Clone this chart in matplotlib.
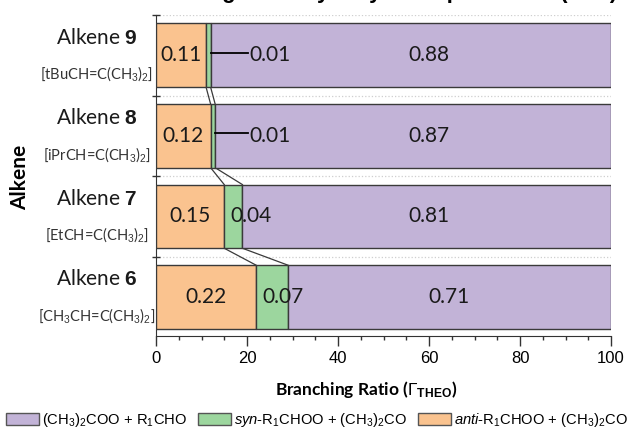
import matplotlib
matplotlib.use('Agg')
import matplotlib.pyplot as plt
import matplotlib.transforms as mtransforms
from matplotlib.patches import Patch
from matplotlib.ticker import MultipleLocator
import numpy as np

plt.rcParams['font.family'] = ['Lato', 'DejaVu Sans']
plt.rcParams['mathtext.fontset'] = 'custom'
plt.rcParams['mathtext.rm'] = 'Liberation Sans'
plt.rcParams['mathtext.it'] = 'Liberation Sans:italic'
plt.rcParams['mathtext.bf'] = 'Liberation Sans:bold'

# data, bottom to top
alkene_ids = ['6', '7', '8', '9']
formulas = [r'[CH$_3$CH=C(CH$_3$)$_2$]', r'[EtCH=C(CH$_3$)$_2$]',
            r'[iPrCH=C(CH$_3$)$_2$]', r'[tBuCH=C(CH$_3$)$_2$]']
anti = np.array([22, 15, 12, 11])
syn = np.array([7, 4, 1, 1])
dimethyl = np.array([71, 81, 87, 88])

series_names = [r'(CH$_3$)$_2$COO + R$_1$CHO',
                r'$\mathit{syn}$-R$_1$CHOO + (CH$_3$)$_2$CO',
                r'$\mathit{anti}$-R$_1$CHOO + (CH$_3$)$_2$CO']

C_ANTI = '#FAC38F'
C_SYN = '#9CD69E'
C_DIM = '#C2B3D7'
EDGE = '#3a3a3a'

fig = plt.figure(figsize=(6.3, 4.3), dpi=100)
ax = fig.add_axes([156 / 630, 1 - 336 / 430, 455 / 630, 321 / 430])

y = np.arange(len(alkene_ids))
h = 0.79
kw = dict(height=h, edgecolor=EDGE, linewidth=1.0, zorder=3)
ax.barh(y, anti, color=C_ANTI, **kw)
ax.barh(y, syn, left=anti, color=C_SYN, **kw)
ax.barh(y, dimethyl, left=anti + syn, color=C_DIM, **kw)

# series lines between neighbouring bars
for i in range(len(y) - 1):
    for edges in (anti, anti + syn):
        ax.plot([edges[i], edges[i + 1]], [y[i] + h / 2, y[i + 1] - h / 2],
                color=EDGE, lw=0.9, zorder=2)

# value labels
lbl = dict(fontsize=15, va='center', color='#1a1a1a', zorder=5)
for i in range(len(y)):
    ax.text(anti[i] / 2, y[i], f'{anti[i] / 100:.2f}', ha='center', **lbl)
    if syn[i] >= 3:
        ax.text(anti[i] + 1.3, y[i], f'{syn[i] / 100:.2f}', ha='left', **lbl)
    else:
        ax.plot([anti[i] + syn[i], 20.3], [y[i] + 0.03, y[i] + 0.03],
                color='black', lw=1.3, zorder=5)
        ax.text(20.6, y[i], f'{syn[i] / 100:.2f}', ha='left', **lbl)
    cx = max(anti[i] + syn[i] + dimethyl[i] / 2, 60)
    ax.text(cx, y[i], f'{dimethyl[i] / 100:.2f}', ha='center', **lbl)

ax.set_xlim(0, 100)
ax.set_ylim(-0.484, 3.5)
ax.xaxis.set_major_locator(MultipleLocator(20))
ax.xaxis.set_minor_locator(MultipleLocator(5))
ax.tick_params(axis='x', which='major', direction='out', length=7, width=1,
               color='#333333', pad=4, labelsize=12)
ax.tick_params(axis='x', which='minor', direction='out', length=3, width=1,
               color='#333333')
for t in ax.get_xticklabels():
    t.set_fontfamily('Liberation Sans')

ax.set_yticks([0.5, 1.5, 2.5, 3.5])
ax.set_yticklabels([])
ax.tick_params(axis='y', direction='inout', length=6, width=1, color='#333333')
ax.grid(axis='y', linestyle=':', color='#cfcfcf', linewidth=0.9, zorder=0)
for s in ('top', 'right'):
    ax.spines[s].set_visible(False)
for s in ('left', 'bottom'):
    ax.spines[s].set_color('#333333')

# category labels
trans = mtransforms.blended_transform_factory(ax.transAxes, ax.transData)
for i in range(len(y)):
    ax.text(-0.13, y[i] + 0.22, rf'Alkene $\mathbf{{{alkene_ids[i]}}}$',
            transform=trans, ha='center', va='center', fontsize=15, color='#1a1a1a')
    ax.text(-0.13, y[i] - 0.23, formulas[i], transform=trans, ha='center',
            va='center', fontsize=10.5, color='#333333')

fig.text(20 / 630, 1 - 177 / 430, 'Alkene', rotation=90, ha='center', va='center',
         fontsize=15, fontweight='bold')
fig.text(366 / 630, 1 - 389 / 430, r'Branching Ratio ($\mathit{\Gamma}_{\mathbf{THEO}}$)',
         ha='center', va='center', fontsize=12.5, fontweight='bold')

# title cut off at the top edge of the picture
fig.text(627 / 630, 1 + 2 / 430, 'Branching Ratio by Alkyl Group: R\u2081CH=C(CH\u2083)\u2082',
         ha='right', va='baseline', fontsize=16, fontweight='bold',
         family=['Liberation Sans', 'DejaVu Sans'])

handles = [Patch(facecolor=C_DIM, edgecolor='#555555'),
           Patch(facecolor=C_SYN, edgecolor='#555555'),
           Patch(facecolor=C_ANTI, edgecolor='#555555')]
leg = fig.legend(handles, series_names, loc='center left', ncol=3,
                 bbox_to_anchor=(6 / 630, 1 - 420 / 430), frameon=False,
                 prop={'family': 'Liberation Sans', 'size': 10.6},
                 handlelength=2.25, handleheight=0.95, handletextpad=0.2,
                 columnspacing=0.75, borderpad=0, borderaxespad=0)

fig.savefig('out.png', dpi=100)
